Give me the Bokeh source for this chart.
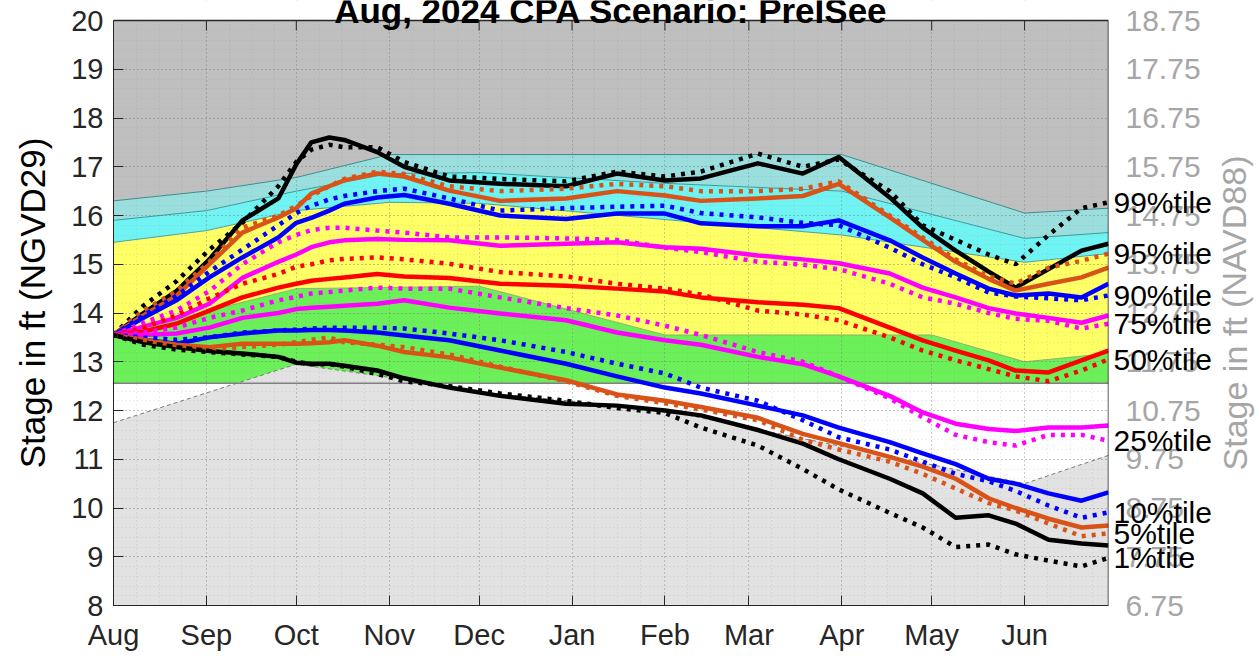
from bokeh.plotting import figure
from bokeh.layouts import row
from bokeh.models import Range1d, FixedTicker
from bokeh.core.properties import value
from bokeh.embed import file_html
from bokeh.resources import INLINE

FONT = "Liberation Sans"
TITLE = "Aug, 2024 CPA Scenario: PreISee"
Y_LABEL = "Stage in ft (NGVD29)"
Y2_LABEL = "Stage in ft (NAVD88)"

# x axis: days since Aug 1
MONTH_DAYS = [0, 31, 61, 92, 122, 153, 184, 212, 243, 273, 304]
MONTH_NAMES = ["Aug", "Sep", "Oct", "Nov", "Dec", "Jan", "Feb", "Mar", "Apr", "May", "Jun"]
X_END = 332

# sampled days for percentile traces
DAYS = [0, 10, 21, 32, 43, 55, 61, 66, 72, 77, 88, 97, 112, 129, 151, 168, 184,
        196, 215, 230, 242, 259, 270, 281, 292, 301, 312, 323, 332]

p99_solid = [13.55, 14.0, 14.45, 15.1, 15.9, 16.35, 17.05, 17.5, 17.6, 17.55, 17.3, 17.0, 16.72, 16.65, 16.6,
             16.86, 16.72, 16.76, 17.07, 16.86, 17.2, 16.37, 15.75, 15.28, 14.85, 14.52, 14.9, 15.28, 15.42]
p99_dot = [13.55, 14.15, 14.65, 15.3, 15.85, 16.6, 17.1, 17.35, 17.45, 17.4, 17.4, 17.1, 16.8, 16.75, 16.7,
           16.9, 16.8, 16.9, 17.27, 17.0, 17.15, 16.5, 15.8, 15.5, 15.2, 15.0, 15.6, 16.15, 16.27]
p95_solid = [13.55, 13.95, 14.35, 15.0, 15.65, 15.96, 16.15, 16.45, 16.6, 16.72, 16.86, 16.8, 16.51, 16.3, 16.35,
             16.5, 16.41, 16.3, 16.35, 16.4, 16.65, 15.96, 15.5, 15.05, 14.7, 14.46, 14.6, 14.73, 14.93]
p95_dot = [13.55, 14.05, 14.45, 15.05, 15.75, 16.0, 16.2, 16.4, 16.6, 16.75, 16.9, 16.85, 16.6, 16.5, 16.55,
           16.65, 16.6, 16.5, 16.5, 16.55, 16.7, 16.0, 15.55, 15.1, 14.75, 14.6, 14.93, 15.07, 15.22]
p90_solid = [13.55, 13.9, 14.26, 14.73, 15.14, 15.55, 15.85, 15.95, 16.1, 16.24, 16.37, 16.42, 16.24, 16.0, 15.93,
             16.04, 16.04, 15.84, 15.78, 15.78, 15.9, 15.49, 15.14, 14.81, 14.5, 14.36, 14.4, 14.32, 14.6]
p90_dot = [13.55, 13.95, 14.35, 14.85, 15.3, 15.8, 16.05, 16.2, 16.33, 16.4, 16.5, 16.55, 16.35, 16.1, 16.15,
           16.18, 16.2, 16.05, 15.96, 15.85, 15.8, 15.34, 15.0, 14.73, 14.42, 14.34, 14.3, 14.26, 14.36]
p75_solid = [13.55, 13.72, 13.9, 14.19, 14.72, 15.05, 15.2, 15.35, 15.45, 15.49, 15.52, 15.5, 15.49, 15.38, 15.42,
             15.45, 15.35, 15.32, 15.18, 15.1, 15.02, 14.81, 14.52, 14.32, 14.1, 13.99, 13.9, 13.8, 13.95]
p75_dot = [13.55, 13.8, 14.05, 14.45, 15.0, 15.45, 15.6, 15.7, 15.75, 15.75, 15.69, 15.65, 15.55, 15.55, 15.53,
           15.5, 15.34, 15.25, 15.05, 14.99, 14.9, 14.6, 14.32, 14.19, 14.0, 13.88, 13.84, 13.68, 13.78]
p50_solid = [13.55, 13.62, 13.78, 14.05, 14.32, 14.52, 14.6, 14.66, 14.7, 14.73, 14.8, 14.75, 14.72, 14.6, 14.56,
             14.5, 14.44, 14.32, 14.22, 14.17, 14.1, 13.7, 13.44, 13.23, 13.03, 12.82, 12.78, 13.03, 13.23]
p50_dot = [13.55, 13.7, 13.95, 14.3, 14.6, 14.8, 14.95, 15.0, 15.08, 15.11, 15.14, 15.1, 15.01, 14.84, 14.75,
           14.6, 14.5, 14.38, 14.05, 13.97, 13.85, 13.5, 13.23, 13.03, 12.85, 12.7, 12.6, 12.82, 13.05]
p25_solid = [13.55, 13.55, 13.58, 13.7, 13.9, 14.0, 14.08, 14.11, 14.13, 14.15, 14.19, 14.26, 14.11, 13.99, 13.85,
             13.6, 13.44, 13.35, 13.1, 12.95, 12.7, 12.3, 11.96, 11.73, 11.62, 11.58, 11.65, 11.65, 11.69]
p25_dot = [13.55, 13.6, 13.7, 13.9, 14.05, 14.26, 14.33, 14.4, 14.43, 14.46, 14.52, 14.5, 14.5, 14.32, 14.1,
           13.95, 13.74, 13.55, 13.2, 13.0, 12.7, 12.25, 11.86, 11.5, 11.35, 11.28, 11.5, 11.5, 11.38]
p10_solid = [13.55, 13.45, 13.37, 13.5, 13.58, 13.64, 13.64, 13.65, 13.65, 13.64, 13.6, 13.54, 13.44, 13.23, 12.96,
             12.7, 12.47, 12.35, 12.1, 11.9, 11.65, 11.35, 11.12, 10.9, 10.6, 10.5, 10.3, 10.15, 10.32]
p10_dot = [13.55, 13.5, 13.45, 13.5, 13.6, 13.64, 13.66, 13.68, 13.7, 13.7, 13.7, 13.68, 13.58, 13.44, 13.2,
           12.96, 12.76, 12.47, 12.2, 11.8, 11.45, 11.2, 10.95, 10.7, 10.55, 10.35, 10.05, 9.8, 9.91]
p5_solid = [13.55, 13.45, 13.35, 13.3, 13.37, 13.37, 13.37, 13.38, 13.4, 13.44, 13.33, 13.2, 13.09, 12.88, 12.62,
            12.33, 12.2, 12.07, 11.85, 11.52, 11.33, 11.05, 10.85, 10.6, 10.2, 10.0, 9.78, 9.6, 9.64]
p5_dot = [13.55, 13.45, 13.3, 13.25, 13.3, 13.35, 13.4, 13.45, 13.5, 13.4, 13.35, 13.3, 13.15, 12.9, 12.6,
          12.3, 12.15, 12.02, 11.8, 11.4, 11.2, 10.95, 10.7, 10.4, 10.1, 9.95, 9.68, 9.42, 9.48]
p1_solid = [13.55, 13.4, 13.3, 13.22, 13.17, 13.1, 12.98, 12.96, 12.96, 12.92, 12.82, 12.66, 12.47, 12.3, 12.14,
            12.1, 12.0, 11.9, 11.6, 11.32, 11.0, 10.6, 10.3, 9.8, 9.85, 9.68, 9.35, 9.27, 9.23]
p1_dot = [13.55, 13.35, 13.25, 13.2, 13.15, 13.1, 13.0, 12.95, 12.95, 12.9, 12.75, 12.6, 12.5, 12.35, 12.2,
          12.05, 11.95, 11.65, 11.28, 10.8, 10.38, 9.9, 9.6, 9.2, 9.25, 9.05, 8.92, 8.8, 8.98]

PCT_LABELS = ["99%tile", "95%tile", "90%tile", "75%tile", "50%tile", "25%tile", "10%tile", "5%tile", "1%tile"]

# zone boundaries (days, stage)
top_days = [0, 31, 61, 92, 243, 304, 332]
top_vals = [16.3, 16.5, 16.78, 17.25, 17.25, 16.05, 16.15]
mid_days = [0, 31, 61, 92, 122, 184, 243, 304, 332]
mid_vals = [15.9, 16.1, 16.5, 16.86, 16.88, 16.66, 16.5, 15.53, 15.65]
cy_days = [0, 31, 61, 92, 122, 243, 304, 332]
cy_vals = [15.45, 15.69, 16.1, 16.27, 16.25, 15.6, 15.04, 15.22]
yg_days = [0, 61, 122, 184, 273, 304, 332]
yg_vals = [13.55, 14.5, 14.55, 13.55, 13.55, 13.0, 13.17]
gb_days = [0, 332]
gb_vals = [12.56, 12.56]
low_days = [0, 61, 92, 122, 184, 304, 332]
low_vals = [11.75, 12.95, 12.68, 12.38, 12.0, 10.5, 11.08]

Y_MIN, Y_MAX = 8, 20
NAVD_SHIFT = 1.25
Y_TICKS = list(range(Y_MIN, Y_MAX + 1))

C_BLACK = "#000000"
C_ORANGE = "#d95319"
C_BLUE = "#0000ff"
C_MAG = "#ff00ff"
C_RED = "#ff0000"
C_AXIS = "#262626"

series = [
    (p99_solid, p99_dot, C_BLACK),
    (p95_solid, p95_dot, C_ORANGE),
    (p90_solid, p90_dot, C_BLUE),
    (p75_solid, p75_dot, C_MAG),
    (p50_solid, p50_dot, C_RED),
    (p25_solid, p25_dot, C_MAG),
    (p10_solid, p10_dot, C_BLUE),
    (p5_solid, p5_dot, C_ORANGE),
    (p1_solid, p1_dot, C_BLACK),
]

# ---------------- layout geometry (pixels) ----------------
TOTAL_H = 659
FRAME_L, FRAME_R = 113, 1108
BOX_T, BOX_B = 20, 605           # pixel rows of stage 20 and stage 8
MAIN_W = FRAME_R + 2
SIDE_W = 1258 - MAIN_W
PX_PER_FT = (BOX_B - BOX_T) / (Y_MAX - Y_MIN)
Y_TOP = Y_MAX + BOX_T / PX_PER_FT  # stage at the top pixel row

# ---------------- main plot ----------------
p = figure(width=MAIN_W, height=TOTAL_H, output_backend="svg", toolbar_location=None,
           x_range=Range1d(0, X_END), y_range=Range1d(Y_MIN, Y_TOP),
           min_border_left=FRAME_L, min_border_right=MAIN_W - FRAME_R,
           min_border_top=0, min_border_bottom=TOTAL_H - BOX_B,
           background_fill_color="white", border_fill_color="white")
p.outline_line_color = None
p.frame_align = False


def poly(upper_d, upper_v, lower_d, lower_v):
    xs = list(upper_d) + list(reversed(lower_d))
    ys = list(upper_v) + list(reversed(lower_v))
    return xs, ys


zones = [
    (poly(top_days, top_vals, [0, X_END], [Y_MAX, Y_MAX]), "#bfbfbf"),
    (poly(mid_days, mid_vals, top_days, top_vals), "#9bdede"),
    (poly(cy_days, cy_vals, mid_days, mid_vals), "#6ff3f3"),
    (poly(yg_days, yg_vals, cy_days, cy_vals), "#ffff66"),
    (poly(gb_days, gb_vals, yg_days, yg_vals), "#6cf05a"),
    (poly(low_days, low_vals, [0, X_END], [Y_MIN, Y_MIN]), "#e2e2e2"),
]
for (xs, ys), col in zones:
    p.patch(xs, ys, fill_color=col, line_color=None, level="image")

p.line(top_days, top_vals, line_color="#3c8c8c", line_width=1, level="image")
p.line(mid_days, mid_vals, line_color="#3c9a9a", line_width=1, level="image")
p.line(cy_days, cy_vals, line_color="#4aa0a0", line_width=1, level="image")
p.line(yg_days, yg_vals, line_color="#8aa060", line_width=0.8, level="image")
p.line(gb_days, gb_vals, line_color="#808080", line_width=1.5, level="image")
p.line(low_days, low_vals, line_color="#7a7a7a", line_width=1, line_dash="4 3", level="image")

# white strip above the box (hides grid lines there), title goes on it
p.quad(left=[0], right=[X_END], bottom=[Y_MAX], top=[Y_TOP], fill_color="white", line_color=None)

# percentile traces
for solid, dot, col in series:
    p.line(DAYS, solid, line_color=col, line_width=4.5, line_join="round")
for solid, dot, col in series:
    p.line(DAYS, dot, line_color=col, line_width=4.5, line_dash="4 6", line_cap="butt")

# box: top and right edges (left/bottom are the axes)
p.line([0, X_END, X_END], [Y_MAX, Y_MAX, Y_MIN], line_color=C_AXIS, line_width=1.5)

# tick marks along the top edge of the box
tick_len = 10 / PX_PER_FT
p.segment(x0=MONTH_DAYS, y0=[Y_MAX] * len(MONTH_DAYS), x1=MONTH_DAYS,
          y1=[Y_MAX - tick_len] * len(MONTH_DAYS), line_color=C_AXIS, line_width=1)

# title, cut by the top edge of the picture
p.text(x=[X_END / 2], y=[Y_MAX + 10 / PX_PER_FT], text=[TITLE], text_align="center",
       text_baseline="alphabetic", text_font=value(FONT), text_font_size=value("35px"),
       text_font_style="bold", text_color="#000000")

# axes
p.xaxis.ticker = FixedTicker(ticks=MONTH_DAYS)
p.xaxis.major_label_overrides = {d: n for d, n in zip(MONTH_DAYS, MONTH_NAMES)}
p.yaxis.ticker = FixedTicker(ticks=Y_TICKS)
p.yaxis.bounds = (Y_MIN, Y_MAX)
for ax in (p.xaxis[0], p.yaxis[0]):
    ax.major_tick_in = 10
    ax.major_tick_out = 0
    ax.minor_tick_in = 0
    ax.minor_tick_out = 0
    ax.axis_line_color = C_AXIS
    ax.major_tick_line_color = C_AXIS
    ax.major_label_text_font = FONT
    ax.major_label_text_font_size = "29px"
    ax.major_label_text_color = C_AXIS
    ax.axis_label_text_font = FONT
    ax.axis_label_text_font_size = "35px"
    ax.axis_label_text_font_style = "normal"
    ax.axis_label_text_color = "#000000"
p.xaxis.major_label_standoff = 13
p.yaxis.major_label_standoff = 10
p.yaxis.axis_label = Y_LABEL
p.yaxis.axis_label_standoff = 16

# grid
p.xgrid.ticker = FixedTicker(ticks=MONTH_DAYS[1:],
                             minor_ticks=[d + k * 7.6 for d in MONTH_DAYS for k in (1, 2, 3)])
p.ygrid.ticker = FixedTicker(ticks=Y_TICKS[1:-1],
                             minor_ticks=[Y_MIN + 0.2 * i for i in range(1, 60)])
for g in (p.xgrid[0], p.ygrid[0]):
    g.grid_line_color = "#6e6e6e"
    g.grid_line_alpha = 0.7
    g.grid_line_dash = "1 3"
    g.grid_line_width = 1
    g.minor_grid_line_color = "#8a8a8a"
    g.minor_grid_line_alpha = 0.25
    g.minor_grid_line_dash = "1 3"

# ---------------- right side: NAVD88 scale and percentile labels ----------------
side_bot = Y_MAX - (TOTAL_H - BOX_T) / PX_PER_FT
s = figure(width=SIDE_W, height=TOTAL_H, output_backend="svg", toolbar_location=None,
           x_axis_type=None, y_axis_type=None, x_range=Range1d(0, SIDE_W),
           y_range=Range1d(side_bot, Y_TOP), min_border=0, outline_line_color=None,
           background_fill_color="white", border_fill_color="white")
s.frame_align = False
s.grid.visible = False
s.text(x=[15] * len(Y_TICKS), y=Y_TICKS, text=["%.2f" % (v - NAVD_SHIFT) for v in Y_TICKS],
       text_align="left", text_baseline="middle", text_font=value(FONT),
       text_font_size=value("30px"), text_color="#a6a6a6")
s.text(x=[124], y=[(Y_MIN + Y_MAX) / 2], text=[Y2_LABEL], angle=1.5708, text_align="center",
       text_baseline="middle", text_font=value(FONT), text_font_size=value("34px"),
       text_color="#a6a6a6")
s.text(x=[3] * len(series), y=[dot[-1] for _, dot, _ in series], text=PCT_LABELS,
       text_align="left", text_baseline="middle", text_font=value(FONT),
       text_font_size=value("30px"), text_color="#000000")

layout = row(p, s, spacing=0)
open("out.html", "w").write(file_html(layout, INLINE))
